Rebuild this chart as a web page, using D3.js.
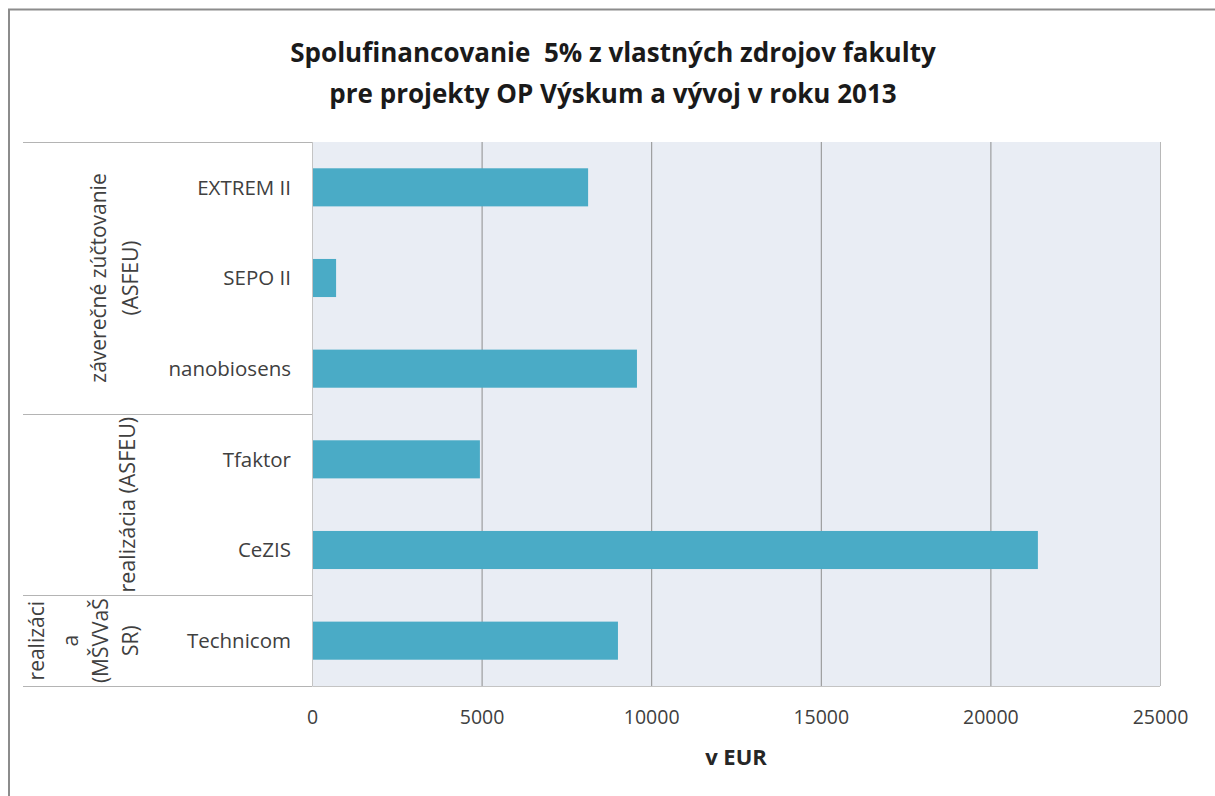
<!DOCTYPE html>
<html>
<head>
<meta charset="utf-8">
<script src="https://cdn.jsdelivr.net/npm/d3@7"></script>
<style>
  html, body { margin: 0; padding: 0; background: #fff; }
  svg text { font-family: "Open Sans", "Noto Sans", sans-serif; white-space: pre; }
</style>
</head>
<body>
<div id="chart"></div>
<script>
// Chart data
const categories = ['EXTREM II', 'SEPO II', 'nanobiosens', 'Tfaktor', 'CeZIS', 'Technicom'];
const values = [8140, 710, 9580, 4950, 21400, 9020];
const groupSizes = [3, 2, 1];
const groupLabels = [
  ['záverečné zúčtovanie', '(ASFEU)'],
  ['realizácia (ASFEU)'],
  ['realizáci', 'a', '(MŠVVaŠ', 'SR)']
];
const xTicks = [0, 5000, 10000, 15000, 20000, 25000];
const titleLines = [
  'Spolufinancovanie  5% z vlastných zdrojov fakulty',
  'pre projekty OP Výskum a vývoj v roku 2013'
];
const xTitle = 'v EUR';

const W = 1215, H = 796;
const plot = { left: 312, right: 1160, top: 142, bottom: 686 };
const tableLeft = 23;
const BAR = '#4aabc6';

const svg = d3.select('#chart').append('svg')
  .attr('width', W).attr('height', H);

// outer frame (only top + left are visible in the picture)
svg.append('path')
  .attr('d', `M9,${H} L9,9.5 L${W},9.5`)
  .attr('fill', 'none')
  .attr('stroke', '#8c8c8c')
  .attr('stroke-width', 2);

// ── Title ─────────────────────────────────────────────
svg.append('g').selectAll('text')
  .data(titleLines)
  .join('text')
  .attr('x', 613)
  .attr('y', (d, i) => 62 + i * 41)
  .attr('text-anchor', 'middle')
  .attr('font-size', 26)
  .attr('font-weight', 'bold')
  .attr('fill', '#1a1a1a')
  .attr('xml:space', 'preserve')
  .text((d) => d);

// ── Scales ────────────────────────────────────────────
const x = d3.scaleLinear().domain([0, 25000]).range([plot.left, plot.right]);
const y = d3.scaleBand().domain(categories)
  .range([plot.top, plot.bottom])
  .paddingInner(0.58).paddingOuter(0.29);

// plot background
svg.append('rect')
  .attr('x', plot.left).attr('y', plot.top)
  .attr('width', plot.right - plot.left).attr('height', plot.bottom - plot.top)
  .attr('fill', '#e9edf4');

// gridlines
svg.append('g').selectAll('line')
  .data(xTicks.slice(1))
  .join('line')
  .attr('x1', (d) => x(d) + 0.5).attr('x2', (d) => x(d) + 0.5)
  .attr('y1', plot.top).attr('y2', plot.bottom)
  .attr('stroke', (d, i) => i === xTicks.length - 2 ? '#b8b8b8' : '#8e8e8e')
  .attr('stroke-width', 1);

// bars
svg.append('g').selectAll('rect')
  .data(categories)
  .join('rect')
  .attr('x', x(0))
  .attr('y', (d) => y(d))
  .attr('width', (d, i) => x(values[i]) - x(0))
  .attr('height', y.bandwidth())
  .attr('fill', BAR);

// plot frame: left + bottom
svg.append('path')
  .attr('d', `M${plot.left + 0.5},${plot.top} L${plot.left + 0.5},${plot.bottom + 0.5} L${plot.right},${plot.bottom + 0.5}`)
  .attr('fill', 'none')
  .attr('stroke', '#c4c4c4');

// ── X axis ────────────────────────────────────────────
const xAxis = svg.append('g')
  .attr('transform', `translate(0,${plot.bottom})`)
  .call(d3.axisBottom(x).tickValues(xTicks).tickSize(0).tickPadding(24).tickFormat(d3.format('d')));
xAxis.select('.domain').remove();
xAxis.selectAll('text')
  .attr('font-size', 19.5)
  .attr('fill', '#404040')
  .style('font-family', '"Open Sans", sans-serif');

svg.append('text')
  .attr('x', (plot.left + plot.right) / 2)
  .attr('y', 765)
  .attr('text-anchor', 'middle')
  .attr('font-size', 22)
  .attr('font-weight', 'bold')
  .attr('fill', '#262626')
  .text(xTitle);

// ── Category table (left) ─────────────────────────────
svg.append('g').selectAll('text')
  .data(categories)
  .join('text')
  .attr('x', 291)
  .attr('y', (d) => y(d) + y.bandwidth() / 2)
  .attr('dy', '0.35em')
  .attr('text-anchor', 'end')
  .attr('font-size', 20.5)
  .attr('fill', '#404040')
  .text((d) => d);

// group boundaries from band steps
const step = y.step();
const bounds = [plot.top];
let acc = 0;
groupSizes.forEach((n) => { acc += n; bounds.push(plot.top + acc * step); });

svg.append('g').selectAll('line')
  .data(bounds)
  .join('line')
  .attr('x1', tableLeft).attr('x2', plot.left)
  .attr('y1', (d) => Math.round(d) + 0.5).attr('y2', (d) => Math.round(d) + 0.5)
  .attr('stroke', '#b4b4b4')
  .attr('stroke-width', 1.2);

// rotated group labels
const groupX = [[99, 131], [127], [37, 71, 101, 131]];
const groupSize = [21, 21.5, 21];
const groupG = svg.append('g');
groupLabels.forEach((lines, g) => {
  const cy = (bounds[g] + bounds[g + 1]) / 2;
  lines.forEach((line, j) => {
    groupG.append('text')
      .attr('transform', `translate(${groupX[g][j]},${cy}) rotate(-90)`)
      .attr('text-anchor', 'middle')
      .attr('dy', '0.35em')
      .attr('font-size', groupSize[g])
      .attr('fill', '#404040')
      .text(line);
  });
});
</script>
</body>
</html>
